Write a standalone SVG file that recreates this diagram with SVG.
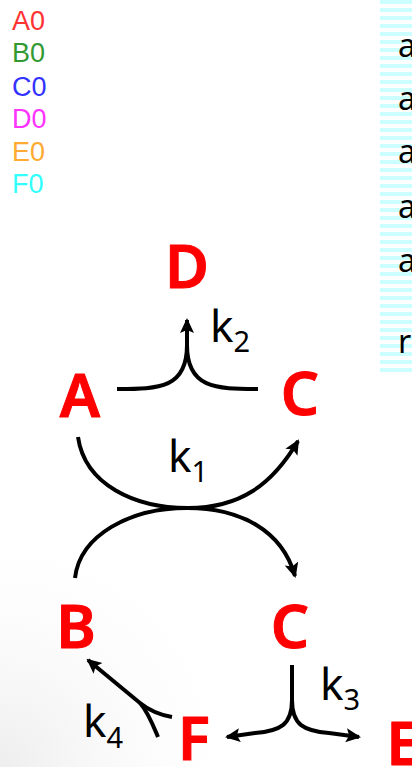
<svg xmlns="http://www.w3.org/2000/svg" width="412" height="767" viewBox="0 0 412 767">
  <defs>
    <marker id="ah" markerUnits="userSpaceOnUse" markerWidth="18" markerHeight="16" refX="13" refY="7" orient="auto">
      <path d="M0,0 L15,7 L0,14 L3,7 Z" fill="#000"/>
    </marker>
    <pattern id="stripes" patternUnits="userSpaceOnUse" x="0" y="0" width="8" height="8">
      <rect x="0" y="0" width="8" height="4" fill="#ccffff"/>
    </pattern>
    <radialGradient id="shade" cx="0" cy="767" r="260" gradientUnits="userSpaceOnUse">
      <stop offset="0" stop-color="#e6e6e6" stop-opacity="0.7"/>
      <stop offset="1" stop-color="#ffffff" stop-opacity="0"/>
    </radialGradient>
    <style>
      .leg { font-family: "Liberation Sans", Arial, sans-serif; font-size: 27px; }
      .node { font-family: "Noto Sans", "DejaVu Sans", sans-serif; font-size: 60px; font-weight: 600; fill: #ff0000; stroke: #ff0000; stroke-width: 1; stroke-linejoin: round; text-anchor: middle; }
      .k { font-family: "Noto Sans", "DejaVu Sans", sans-serif; font-size: 44px; fill: #000; }
      .sub { font-size: 29px; }
      .panel { font-family: "Noto Sans", "DejaVu Sans", sans-serif; font-size: 32px; fill: #000; }
      .conn path { fill: none; stroke: #000; stroke-width: 4; }
    </style>
  </defs>

  <rect x="0" y="0" width="412" height="767" fill="#ffffff"/>
  <rect x="0" y="500" width="260" height="267" fill="url(#shade)"/>

  <!-- legend -->
  <g id="legend">
    <text class="leg" x="12" y="30" fill="#ff3333">A0</text>
    <text class="leg" x="12" y="62" fill="#339933">B0</text>
    <text class="leg" x="12" y="96" fill="#3333ff">C0</text>
    <text class="leg" x="12" y="128" fill="#ff33ff">D0</text>
    <text class="leg" x="12" y="161" fill="#ffaa33">E0</text>
    <text class="leg" x="12" y="193" fill="#33ffff">F0</text>
  </g>

  <!-- striped side panel -->
  <g id="panel">
    <rect x="380" y="0" width="32" height="376" fill="url(#stripes)"/>
    <text class="panel" x="398" y="57">a</text>
    <text class="panel" x="398" y="110">a</text>
    <text class="panel" x="398" y="163">a</text>
    <text class="panel" x="398" y="218">a</text>
    <text class="panel" x="398" y="272">a</text>
    <text class="panel" x="398" y="353">r</text>
  </g>

  <!-- connectors -->
  <g id="connectors" class="conn">
    <!-- k2: A + C -> D -->
    <path d="M117,389 C160,389 187,388 187,345"/>
    <path d="M258,389 C215,389 187,388 187,345 L187,320" marker-end="url(#ah)"/>
    <!-- k1: A -> C (upper arc) -->
    <path d="M78,437 C85,485 135,508 188,508 C240,508 272,485 298,441" marker-end="url(#ah)"/>
    <!-- k1: B -> C (lower arc) -->
    <path d="M75,578 C80,535 130,508 187,508 C240,508 282,530 295,576" marker-end="url(#ah)"/>
    <!-- k3: C -> F + E -->
    <path d="M292,665 L292,700 C292,725 280,731 255,733 L227,737" marker-end="url(#ah)"/>
    <path d="M292,700 C292,725 304,731 329,733 L359,737" marker-end="url(#ah)"/>
    <!-- k4: F -> B -->
    <path d="M172,717 C160,715 150,711 140,703 L88,660" marker-end="url(#ah)"/>
    <path d="M158,737 C153,725 148,712 140,703"/>
  </g>

  <!-- rate labels -->
  <g id="labels">
    <text class="k" x="210" y="342">k<tspan class="sub" dy="10">2</tspan></text>
    <text class="k" x="168" y="472">k<tspan class="sub" dy="10">1</tspan></text>
    <text class="k" x="320" y="700">k<tspan class="sub" dy="10">3</tspan></text>
    <text class="k" x="83" y="737">k<tspan class="sub" dy="11">4</tspan></text>
  </g>

  <!-- species nodes -->
  <g id="node-D"><text class="node" x="187" y="288">D</text></g>
  <g id="node-A"><text class="node" x="80" y="417">A</text></g>
  <g id="node-C1"><text class="node" x="300" y="415">C</text></g>
  <g id="node-B"><text class="node" x="76" y="648">B</text></g>
  <g id="node-C2"><text class="node" x="290" y="648">C</text></g>
  <g id="node-F"><text class="node" x="194" y="760">F</text></g>
  <g id="node-E"><text class="node" x="403" y="765">E</text></g>
</svg>
